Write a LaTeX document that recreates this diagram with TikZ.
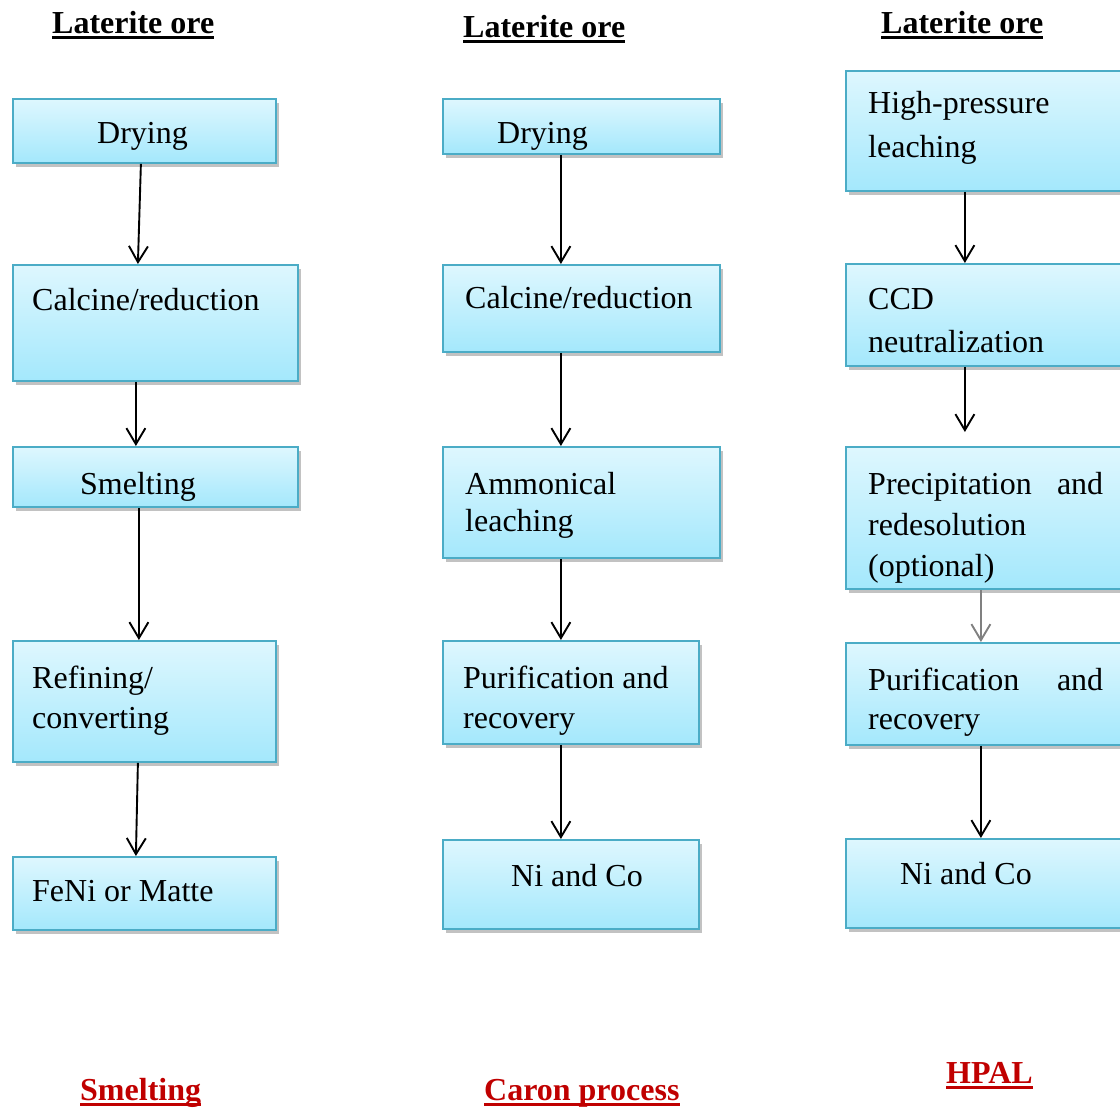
\documentclass[tikz,border=0pt]{standalone}
\usepackage{fontspec}
\setmainfont{Liberation Serif}
\usetikzlibrary{arrows.meta,shadows}
\definecolor{boxtop}{RGB}{222,247,254}
\definecolor{boxbot}{RGB}{164,232,252}
\definecolor{boxline}{RGB}{75,172,198}
\definecolor{lblred}{RGB}{192,0,0}
\tikzset{
 box/.style={draw=boxline, line width=1.8pt, top color=boxtop, bottom color=boxbot, anchor=north west, inner sep=0pt,
   drop shadow={shadow xshift=3pt, shadow yshift=-4pt, opacity=0.4, fill=black!60}},
 txt/.style={inner sep=0pt, anchor=base west, font=\fontsize{32}{40}\selectfont},
 ttl/.style={inner sep=0pt, anchor=base west, font=\fontsize{32}{40}\selectfont\bfseries},
 arr/.style={-{Straight Barb[length=16pt,width=19pt]}, line width=1.9pt},
 uline/.style={line width=2.6pt},
}
\begin{document}
\begin{tikzpicture}[x=1pt,y=-1pt]
\useasboundingbox (0,0) rectangle (1120,1109);
\clip (0,0) rectangle (1120,1109);
% titles
\node[ttl] (h1) at (52,33) {Laterite ore};
\node[ttl] (h2) at (463,37) {Laterite ore};
\node[ttl] (h3) at (881,33) {Laterite ore};
\foreach \h in {h1,h2,h3} \draw[uline] ([yshift=-4.5pt]\h.base west) -- ([yshift=-4.5pt]\h.base east);
% column 1
\node[box, minimum width=263pt, minimum height=64pt] (b11) at (12,98) {};
\node[box, minimum width=285pt, minimum height=116pt] (b12) at (12,264) {};
\node[box, minimum width=285pt, minimum height=60pt] (b13) at (12,446) {};
\node[box, minimum width=263pt, minimum height=121pt] (b14) at (12,640) {};
\node[box, minimum width=263pt, minimum height=73pt] (b15) at (12,856) {};
\node[txt] (t11) at (97,143) {Drying};
\node[txt] (t12) at (32,310) {Calcine/reduction};
\node[txt] (t13) at (80,494) {Smelting};
\node[txt] (t14a) at (32,688) {Refining/};
\node[txt] (t14b) at (32,728) {converting};
\node[txt] (t15) at (32,901) {FeNi or Matte};
% column 2
\node[box, minimum width=277pt, minimum height=55pt] (b21) at (442,98) {};
\node[box, minimum width=277pt, minimum height=87pt] (b22) at (442,264) {};
\node[box, minimum width=277pt, minimum height=111pt] (b23) at (442,446) {};
\node[box, minimum width=256pt, minimum height=103pt] (b24) at (442,640) {};
\node[box, minimum width=256pt, minimum height=89pt] (b25) at (442,839) {};
\node[txt] (t21) at (497,143) {Drying};
\node[txt] (t22) at (465,308) {Calcine/reduction};
\node[txt] (t23a) at (465,494) {Ammonical};
\node[txt] (t23b) at (465,531) {leaching};
\node[txt] (t24a) at (463,688) {Purification and};
\node[txt] (t24b) at (463,728) {recovery};
\node[txt] (t25) at (511,886) {Ni and Co};
% column 3
\node[box, minimum width=300pt, minimum height=120pt] (b31) at (845,70) {};
\node[box, minimum width=300pt, minimum height=102pt] (b32) at (845,263) {};
\node[box, minimum width=300pt, minimum height=142pt] (b33) at (845,446) {};
\node[box, minimum width=300pt, minimum height=102pt] (b34) at (845,642) {};
\node[box, minimum width=300pt, minimum height=89pt] (b35) at (845,838) {};
\node[txt] (t31a) at (868,113) {High-pressure};
\node[txt] (t31b) at (868,157) {leaching};
\node[txt] (t32a) at (868,309) {CCD};
\node[txt] (t32b) at (868,352) {neutralization};
\node[txt] (t33a) at (868,494) {\hbox to 235pt{Precipitation\hfill and}};
\node[txt] (t33b) at (868,535) {redesolution};
\node[txt] (t33c) at (868,576) {(optional)};
\node[txt] (t34a) at (868,690) {\hbox to 235pt{Purification\hfill and}};
\node[txt] (t34b) at (868,729) {recovery};
\node[txt] (t35) at (900,884) {Ni and Co};
% arrows column 1
\draw[arr] ([xshift=-3.5pt]b11.south) -- ([xshift=-17.5pt]b12.north);
\draw[arr] ([xshift=-19.5pt]b12.south) -- ([xshift=-19.5pt]b13.north);
\draw[arr] ([xshift=-16.5pt]b13.south) -- ([xshift=-5.5pt]b14.north);
\draw[arr] ([xshift=-6.5pt]b14.south) -- ([xshift=-8.5pt]b15.north);
% arrows column 2
\draw[arr] ([xshift=-20.5pt]b21.south) -- ([xshift=-20.5pt]b22.north);
\draw[arr] ([xshift=-20.5pt]b22.south) -- ([xshift=-20.5pt]b23.north);
\draw[arr] ([xshift=-20.5pt]b23.south) -- ([xshift=-10pt]b24.north);
\draw[arr] ([xshift=-10pt]b24.south) -- ([xshift=-10pt]b25.north);
% arrows column 3
\draw[arr] ([xshift=-31pt]b31.south) -- ([xshift=-31pt]b32.north);
\draw[arr] ([xshift=-31pt]b32.south) -- ([xshift=-31pt,yshift=14pt]b33.north);
\draw[arr, draw=black!50] ([xshift=-15pt]b33.south) -- ([xshift=-15pt]b34.north);
\draw[arr] ([xshift=-15pt]b34.south) -- ([xshift=-15pt]b35.north);
% bottom labels
\node[ttl, text=lblred] (l1) at (80,1100) {Smelting};
\node[ttl, text=lblred] (l2) at (484,1100) {Caron process};
\node[ttl, text=lblred] (l3) at (946,1083) {HPAL};
\foreach \l in {l1,l2,l3} \draw[uline, draw=lblred] ([yshift=-4.5pt]\l.base west) -- ([yshift=-4.5pt]\l.base east);
\end{tikzpicture}
\end{document}
